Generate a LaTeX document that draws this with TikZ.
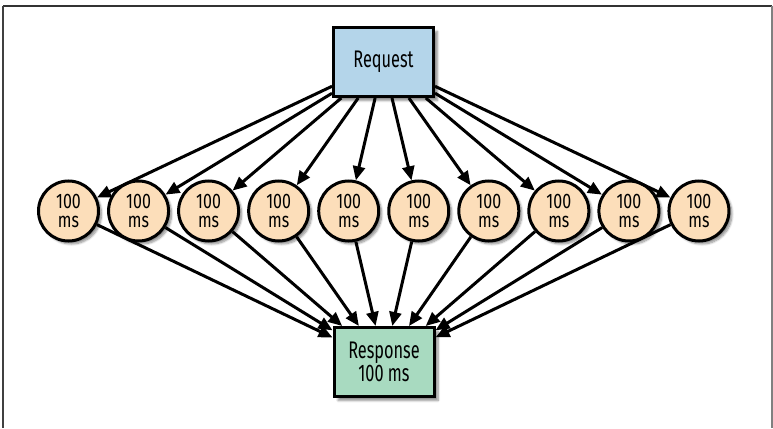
\documentclass[tikz,border=0pt]{standalone}
\usepackage{fontspec}
\setmainfont{Fira Sans}[FakeStretch=0.68]
\newfontfamily\taskfont{Fira Sans}[FakeStretch=0.76]
\usetikzlibrary{arrows.meta,shadows.blur}
\definecolor{reqfill}{RGB}{180,213,234}
\definecolor{taskfill}{RGB}{252,222,186}
\definecolor{respfill}{RGB}{168,218,192}
\tikzset{
  x=1pt, y=-1pt,
  box/.style={draw=black, line width=3pt, minimum width=100pt, minimum height=69pt,
    inner sep=0pt, align=center, font=\fontsize{24}{21}\selectfont,
    blur shadow={shadow xshift=4pt, shadow yshift=-4pt, shadow blur steps=8, shadow opacity=45}},
  task/.style={circle, draw=black, line width=3pt, fill=taskfill, minimum size=60pt,
    inner sep=0pt, align=center, font=\taskfont\fontsize{21}{19}\selectfont,
    blur shadow={shadow xshift=3pt, shadow yshift=-3pt, shadow blur steps=8, shadow opacity=45}},
  flow/.style={line width=3pt, -{Triangle[length=14pt,width=12pt]}},
  rule/.style={line width=2pt}
}
\begin{document}
\begin{tikzpicture}
\useasboundingbox (0,0) rectangle (773,428);
% page frame: top, left and right edges
\draw[rule, draw=black!80] (3,6) -- (772,6);
\draw[rule, draw=black!75] (3,6) -- (3,428);
\draw[rule, draw=black!50] (771.5,6) -- (771.5,428);

\node[box, fill=reqfill] (req) at (383.5,62) {Request};
\node[box, fill=respfill] (resp) at (384,362) {Response\\100 ms};

\foreach \i in {0,...,9} {
  \node[task] (t\i) at ({68.5+70.05*\i},211) {100\\ms};
}
\foreach \i in {0,...,9} {
  \draw[flow] (req) -- (t\i);
  \draw[flow] (t\i) -- (resp);
}
\end{tikzpicture}
\end{document}
